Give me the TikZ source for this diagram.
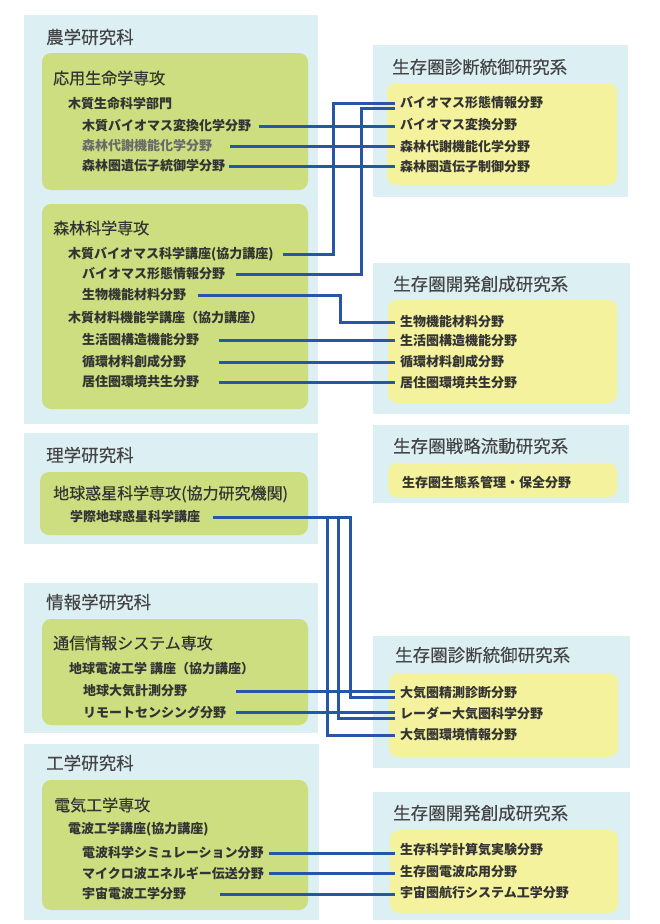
\documentclass[tikz,border=0pt]{standalone}
\usepackage{fontspec}
\newfontfamily\jp{Noto Sans CJK JP}
\newfontfamily\jpmed[FakeBold=0.4]{Noto Sans CJK JP}
\newfontfamily\jpttl[FakeBold=0.2]{Noto Sans CJK JP}
\definecolor{outerblue}{HTML}{DCEFF3}
\definecolor{boxgreen}{HTML}{CCDE7F}
\definecolor{boxyellow}{HTML}{F4F29C}
\definecolor{linkblue}{HTML}{2756A8}
\definecolor{titlegray}{HTML}{444444}
\definecolor{itemgray}{HTML}{333333}
\definecolor{lightitem}{HTML}{6A6A6A}
\tikzset{
  outerbox/.style={fill=outerblue, draw=none},
  greenbox/.style={fill=boxgreen, rounded corners=9pt},
  yellowbox/.style={fill=boxyellow, rounded corners=9pt},
  ttl/.style={anchor=west, inner sep=0pt, text=titlegray, font=\jpttl\fontsize{17.5}{20}\selectfont},
  subttl/.style={anchor=west, inner sep=0pt, text=itemgray, font=\jpmed\fontsize{16}{19}\selectfont},
  itm/.style={anchor=west, inner sep=0pt, text=itemgray, font=\jp\bfseries\fontsize{13}{15}\selectfont},
  ritm/.style={anchor=west, inner ysep=0pt, inner xsep=5pt, text=itemgray, font=\jp\bfseries\fontsize{13}{15}\selectfont},
  conn/.style={draw=linkblue, line width=3pt}
}
\begin{document}
\begin{tikzpicture}[x=1pt,y=-1pt]
\useasboundingbox[fill=white] (0,0) rectangle (660,924);

% ---------- left: 農学研究科 ----------
\fill[outerbox] (24,15) rectangle (318,424);
\node[ttl] (nogaku) at (46,37) {農学研究科};
\fill[greenbox] (42,53) rectangle (308,190);
\node[subttl] (oyo) at (53,78) {応用生命学専攻};
\node[itm] (mokubu) at (68,104) {木質生命科学部門};
\node[itm] (l1) at (82,126) {木質バイオマス変換化学分野};
\node[itm, text=lightitem] (l2) at (82,146) {森林代謝機能化学分野};
\node[itm] (l3) at (82,166) {森林圏遺伝子統御学分野};
\fill[greenbox] (42,204) rectangle (308,409);
\node[subttl] (shinrin) at (53,228) {森林科学専攻};
\node[itm] (l4) at (68,254) {木質バイオマス科学講座(協力講座)};
\node[itm] (l5) at (82,274) {バイオマス形態情報分野};
\node[itm] (l6) at (82,295) {生物機能材料分野};
\node[itm] (kouza2) at (68,318) {木質材料機能学講座（協力講座）};
\node[itm] (l7) at (82,340) {生活圏構造機能分野};
\node[itm] (l8) at (82,362) {循環材料創成分野};
\node[itm] (l9) at (82,382) {居住圏環境共生分野};

% ---------- left: 理学研究科 ----------
\fill[outerbox] (24,433) rectangle (318,544);
\node[ttl] (rigaku) at (46,455) {理学研究科};
\fill[greenbox] (40,472) rectangle (308,535);
\node[subttl] (chikyu) at (53,494) {地球惑星科学専攻(協力研究機関)};
\node[itm] (l10) at (70,517) {学際地球惑星科学講座};

% ---------- left: 情報学研究科 ----------
\fill[outerbox] (24,583) rectangle (318,733);
\node[ttl] (joho) at (46,602) {情報学研究科};
\fill[greenbox] (42,619) rectangle (308,725);
\node[subttl] (tsushin) at (53,643) {通信情報システム専攻};
\node[itm] (denpa1) at (69,669) {地球電波工学 講座（協力講座）};
\node[itm] (l11) at (83,691) {地球大気計測分野};
\node[itm] (l12) at (83,712) {リモートセンシング分野};

% ---------- left: 工学研究科 ----------
\fill[outerbox] (24,744) rectangle (319,920);
\node[ttl] (kogaku) at (46,763) {工学研究科};
\fill[greenbox] (42,780) rectangle (308,910);
\node[subttl] (denki) at (54,805) {電気工学専攻};
\node[itm] (denpa2) at (68,829) {電波工学講座(協力講座)};
\node[itm] (l13) at (82,853) {電波科学シミュレーション分野};
\node[itm] (l14) at (82,873) {マイクロ波エネルギー伝送分野};
\node[itm] (l15) at (82,894) {宇宙電波工学分野};

% ---------- right: 生存圏診断統御研究系 ----------
\fill[outerbox] (373,45) rectangle (628,197);
\node[ttl] (rt1) at (392,67) {生存圏診断統御研究系};
\fill[yellowbox] (387,83) rectangle (617,185);
\node[ritm] (r11) at (395,103) {バイオマス形態情報分野};
\node[ritm] (r12) at (395,125) {バイオマス変換分野};
\node[ritm] (r13) at (395,147) {森林代謝機能化学分野};
\node[ritm] (r14) at (395,167) {森林圏遺伝子制御分野};

% ---------- right: 生存圏開発創成研究系 ----------
\fill[outerbox] (373,263) rectangle (630,414);
\node[ttl] (rt2) at (393,284) {生存圏開発創成研究系};
\fill[yellowbox] (388,300) rectangle (617,403);
\node[ritm] (r21) at (395,322) {生物機能材料分野};
\node[ritm] (r22) at (395,341) {生活圏構造機能分野};
\node[ritm] (r23) at (395,362) {循環材料創成分野};
\node[ritm] (r24) at (395,383) {居住圏環境共生分野};

% ---------- right: 生存圏戦略流動研究系 ----------
\fill[outerbox] (373,425) rectangle (629,503);
\node[ttl] (rt3) at (393,446) {生存圏戦略流動研究系};
\fill[yellowbox] (388,463) rectangle (617,497);
\node[ritm] (r31) at (397,483) {生存圏生態系管理・保全分野};

% ---------- right: 生存圏診断統御研究系 (2) ----------
\fill[outerbox] (373,636) rectangle (630,768);
\node[ttl] (rt4) at (395,655) {生存圏診断統御研究系};
\fill[yellowbox] (389,673) rectangle (618,757);
\node[ritm] (r41) at (395,693) {大気圏精測診断分野};
\node[ritm] (r42) at (395,714) {レーダー大気圏科学分野};
\node[ritm] (r43) at (395,735) {大気圏環境情報分野};

% ---------- right: 生存圏開発創成研究系 (2) ----------
\fill[outerbox] (373,792) rectangle (630,920);
\node[ttl] (rt5) at (393,813) {生存圏開発創成研究系};
\fill[yellowbox] (390,830) rectangle (618,913);
\node[ritm] (r51) at (395,850) {生存科学計算気実験分野};
\node[ritm] (r52) at (395,872) {生存圏電波応用分野};
\node[ritm] (r53) at (395,893) {宇宙圏航行システム工学分野};

% ---------- connectors ----------
\draw[conn] (l1.east -| 259,0) -- (l1.east -| r12.west);
\draw[conn] (l2.east -| 230,0) -- (l2.east -| r13.west);
\draw[conn] (l3.east -| 229,0) -- (l3.east -| r14.west);
\draw[conn] (l4.east -| 283,0) -| (333,0 |- r11.west) -- (r11.west);
\draw[conn] (l5.east -| 236,0) -| (361,108) -- (361,108 -| r11.west);
\draw[conn] (l6.east -| 198,0) -| (340,0 |- r21.west) -- (r21.west);
\draw[conn] (l7.east -| 219,0) -- (l7.east -| r22.west);
\draw[conn] (l8.east -| 219,0) -- (l8.east -| r23.west);
\draw[conn] (l9.east -| 219,0) -- (l9.east -| r24.west);

\draw[conn] (l10.east -| 213,0) -| (350,697) -- (350,697 -| r41.west);
\draw[conn] (338,0 |- l10.east) -- (338,718) -- (338,718 -| r42.west);
\draw[conn] (327,0 |- l10.east) -- (327,0 |- r43.west) -- (r43.west);
\draw[conn] (l11.east -| 236,0) -- (l11.east -| r41.west);
\draw[conn] (l12.east -| 236,0) -- (l12.east -| r42.west);

\draw[conn] (l13.east -| 269,0) -- (l13.east -| r51.west);
\draw[conn] (l14.east -| 269,0) -- (l14.east -| r52.west);
\draw[conn] (l15.east -| 220,0) -- (l15.east -| r53.west);
\end{tikzpicture}
\end{document}
